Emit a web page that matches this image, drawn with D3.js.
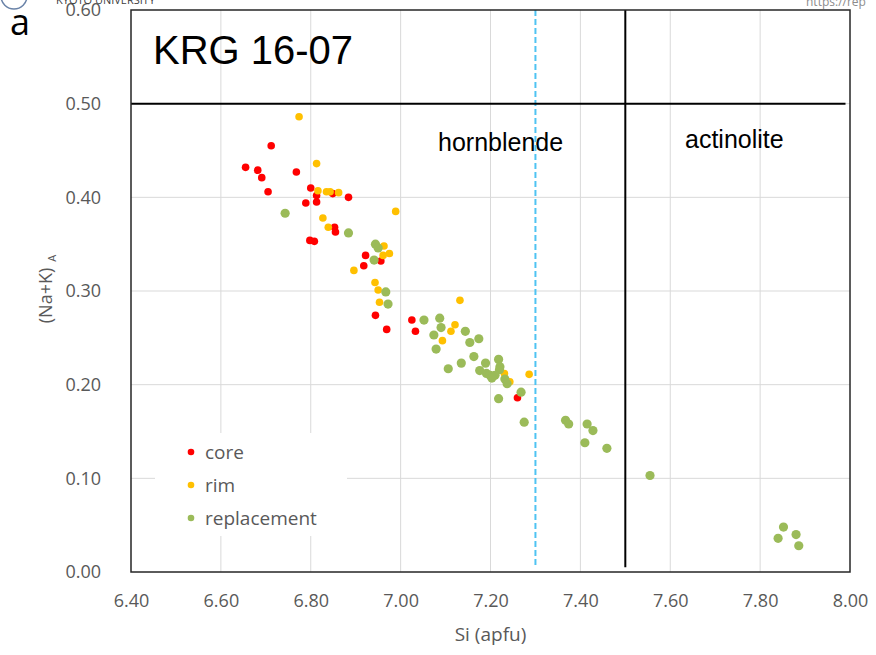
<!DOCTYPE html>
<html>
<head>
<meta charset="utf-8">
<script src="https://cdn.jsdelivr.net/npm/d3@7"></script>
<style>
  body { margin: 0; background: #fff; }
  svg { display: block; }
</style>
</head>
<body>
<div id="chart"></div>
<script>
// data: [Si (apfu), (Na+K)A]
var core = [
    [6.712, 0.455], [6.655, 0.432], [6.682, 0.429], [6.691, 0.421], [6.768, 0.427],
    [6.705, 0.406], [6.800, 0.410], [6.849, 0.404], [6.813, 0.402], [6.884, 0.400],
    [6.789, 0.394], [6.813, 0.395], [6.853, 0.368], [6.855, 0.363], [6.798, 0.354],
    [6.808, 0.353], [6.922, 0.338], [6.918, 0.327], [6.956, 0.332], [6.944, 0.274],
    [6.969, 0.259], [7.025, 0.269], [7.033, 0.257], [7.260, 0.186]
];
var rim = [
    [6.774, 0.486], [6.813, 0.436], [6.816, 0.407], [6.835, 0.406], [6.843, 0.406],
    [6.862, 0.405], [6.989, 0.385], [6.827, 0.378], [6.839, 0.368], [6.963, 0.348],
    [6.961, 0.338], [6.975, 0.340], [6.896, 0.322], [6.943, 0.309], [6.950, 0.301],
    [6.953, 0.288], [7.132, 0.290], [7.121, 0.264], [7.112, 0.257], [7.093, 0.247],
    [7.231, 0.212], [7.243, 0.203], [7.286, 0.211]
];
var replacement = [
    [6.743, 0.383], [6.884, 0.362], [6.944, 0.350], [6.950, 0.346], [6.941, 0.333],
    [6.967, 0.299], [6.972, 0.286], [7.052, 0.269], [7.087, 0.271], [7.090, 0.261],
    [7.144, 0.257], [7.074, 0.253], [7.154, 0.245], [7.174, 0.249], [7.079, 0.238],
    [7.163, 0.230], [7.135, 0.223], [7.106, 0.217], [7.189, 0.223], [7.218, 0.227],
    [7.221, 0.219], [7.220, 0.216], [7.176, 0.215], [7.191, 0.212], [7.199, 0.210],
    [7.210, 0.210], [7.203, 0.207], [7.232, 0.206], [7.237, 0.201], [7.268, 0.192],
    [7.218, 0.185], [7.275, 0.160], [7.367, 0.162], [7.374, 0.158], [7.415, 0.158],
    [7.428, 0.151], [7.410, 0.138], [7.459, 0.132], [7.555, 0.103], [7.852, 0.048],
    [7.840, 0.036], [7.880, 0.040], [7.886, 0.028]
];
var seriesNames = ['core', 'rim', 'replacement'];
var xTicks = [6.4, 6.6, 6.8, 7.0, 7.2, 7.4, 7.6, 7.8, 8.0];
var yTicks = [0, 0.1, 0.2, 0.3, 0.4, 0.5, 0.6];
var hornblendeLimitY = 0.5;   // horizontal boundary
var actinoliteLimitX = 7.5;   // hornblende / actinolite boundary
var dashedX = 7.3;

var width = 876;
var height = 655;
var plot = {'left': 131, 'right': 850, 'top': 10, 'bottom': 572};
var colors = {'core': '#FF0000', 'rim': '#FFC000', 'replacement': '#9BBB59'};
var radius = {'core': 3.8, 'rim': 3.8, 'replacement': 4.6};
var textColor = '#595959';
var font = '"Open Sans", sans-serif';
var arial = '"Liberation Sans", Arial, sans-serif';

var svg = d3.select('#chart')
    .append('svg')
    .attr('width', width)
    .attr('height', height);

var x = d3.scaleLinear().domain([6.4, 8.0]).range([plot.left, plot.right]);
var y = d3.scaleLinear().domain([0, 0.6]).range([plot.bottom, plot.top]);

//gridlines
svg.append('g')
    .selectAll('line')
    .data(xTicks.slice(1, -1))
    .join('line')
    .attr('x1', function(d){ return x(d); })
    .attr('x2', function(d){ return x(d); })
    .attr('y1', plot.top)
    .attr('y2', plot.bottom)
    .style('stroke', '#D9D9D9')
    .style('stroke-width', 1);

svg.append('g')
    .selectAll('line')
    .data(yTicks.slice(1, -1))
    .join('line')
    .attr('x1', plot.left)
    .attr('x2', plot.right)
    .attr('y1', function(d){ return y(d); })
    .attr('y2', function(d){ return y(d); })
    .style('stroke', '#D9D9D9')
    .style('stroke-width', 1);

//axes
var xAxis = svg.append('g')
    .attr('transform', 'translate(0,' + plot.bottom + ')')
    .call(d3.axisBottom(x).tickValues(xTicks).tickFormat(d3.format('.2f')).tickSize(0).tickPadding(22));
var yAxis = svg.append('g')
    .attr('transform', 'translate(' + plot.left + ',0)')
    .call(d3.axisLeft(y).tickValues(yTicks).tickFormat(d3.format('.2f')).tickSize(0).tickPadding(30));
[xAxis, yAxis].forEach(function(a){
    a.select('.domain').remove();
    a.selectAll('text')
        .style('font-family', font)
        .style('font-size', '18px')
        .style('fill', textColor);
});

//region labels
svg.append('text')
    .attr('x', 153).attr('y', 64)
    .text('KRG 16-07')
    .style('font-family', arial)
    .style('font-size', '40px')
    .style('fill', 'black');

svg.append('text')
    .attr('x', 438).attr('y', 151)
    .text('hornblende')
    .style('font-family', arial)
    .style('font-size', '25px')
    .style('fill', 'black');

svg.append('text')
    .attr('x', 685).attr('y', 148)
    .text('actinolite')
    .style('font-family', arial)
    .style('font-size', '25px')
    .style('fill', 'black');

//boundary lines
svg.append('line')
    .attr('x1', x(dashedX)).attr('x2', x(dashedX))
    .attr('y1', plot.top).attr('y2', y(0.005))
    .style('stroke', '#4FC3F2')
    .style('stroke-width', 2)
    .style('stroke-dasharray', '6,3');

svg.append('line')
    .attr('x1', x(actinoliteLimitX)).attr('x2', x(actinoliteLimitX))
    .attr('y1', plot.top).attr('y2', y(0.005))
    .style('stroke', 'black')
    .style('stroke-width', 2);

svg.append('line')
    .attr('x1', plot.left).attr('x2', x(7.99))
    .attr('y1', y(hornblendeLimitY)).attr('y2', y(hornblendeLimitY))
    .style('stroke', 'black')
    .style('stroke-width', 2);

//plot frame
svg.append('rect')
    .attr('x', plot.left)
    .attr('y', plot.top)
    .attr('width', plot.right - plot.left)
    .attr('height', plot.bottom - plot.top)
    .style('fill', 'none')
    .style('stroke', '#262626')
    .style('stroke-width', 1.5);

//points
var allSeries = {'core': core, 'rim': rim, 'replacement': replacement};
seriesNames.forEach(function(name){
    svg.append('g')
        .attr('class', 'series-' + name)
        .selectAll('circle')
        .data(allSeries[name])
        .join('circle')
        .attr('cx', function(d){ return x(d[0]); })
        .attr('cy', function(d){ return y(d[1]); })
        .attr('r', radius[name])
        .style('fill', colors[name]);
});

//legend
var legend = svg.append('g');
legend.append('rect')
    .attr('x', 155).attr('y', 433)
    .attr('width', 192).attr('height', 103)
    .style('fill', 'white');
seriesNames.forEach(function(name, i){
    var ly = 452 + i * 33;
    legend.append('circle')
        .attr('cx', 191).attr('cy', ly)
        .attr('r', 3.3)
        .style('fill', colors[name]);
    legend.append('text')
        .attr('x', 205).attr('y', ly + 7)
        .text(name)
        .style('font-family', font)
        .style('font-size', '19px')
        .style('fill', textColor);
});

//axis titles
svg.append('text')
    .attr('x', (plot.left + plot.right) / 2).attr('y', 641)
    .attr('text-anchor', 'middle')
    .text('Si (apfu)')
    .style('font-family', font)
    .style('font-size', '19px')
    .style('fill', textColor);

var yLabel = svg.append('text')
    .attr('transform', 'translate(52,289) rotate(-90)')
    .attr('text-anchor', 'middle')
    .style('font-family', font)
    .style('font-size', '18px')
    .style('fill', textColor);
yLabel.append('tspan').text('(Na+K)');
yLabel.append('tspan').attr('dx', 6).attr('dy', 4).style('font-size', '11px').text('A');

//page overlay bits from the source slide
svg.append('circle')
    .attr('cx', 14).attr('cy', -4).attr('r', 13)
    .style('fill', 'none')
    .style('stroke', '#6A83A8')
    .style('stroke-width', 1.5);
svg.append('text')
    .attr('x', 56).attr('y', 4)
    .text('KYOTO UNIVERSITY')
    .style('font-family', font)
    .style('font-size', '11px')
    .style('fill', '#404040');
svg.append('text')
    .attr('x', 10).attr('y', 35)
    .text('a')
    .style('font-family', font)
    .style('font-size', '36px')
    .style('fill', 'black');
svg.append('text')
    .attr('x', 806).attr('y', 6)
    .text('https://rep')
    .style('font-family', font)
    .style('font-size', '12px')
    .style('fill', '#8C8C8C');
</script>
</body>
</html>
